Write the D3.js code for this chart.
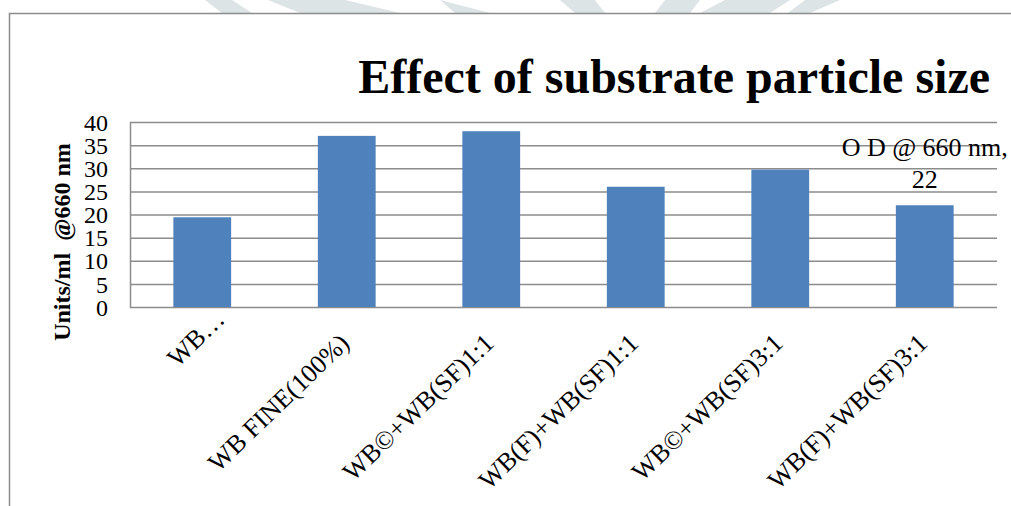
<!DOCTYPE html>
<html>
<head>
<meta charset="utf-8">
<script src="https://cdn.jsdelivr.net/npm/d3@7"></script>
<style>
  body { margin: 0; background: #fff; }
  text { font-family: "Liberation Serif", "Times New Roman", serif; }
</style>
</head>
<body>
<div id="chart"></div>
<script>
// Data
const categories = ['WB…', 'WB FINE(100%)', 'WB©+WB(SF)1:1', 'WB(F)+WB(SF)1:1', 'WB©+WB(SF)3:1', 'WB(F)+WB(SF)3:1'];
const values = [19.4, 37.0, 38.0, 26.0, 29.7, 22.0];
const yTicks = [0, 5, 10, 15, 20, 25, 30, 35, 40];
const titleText = 'Effect of substrate particle size';
const yLabel = 'Units/ml  @660 nm';
const labelLines = ['O D @ 660 nm,', '22'];

const [width, height] = [1011, 506];
const plot = { left: 130, right: 997, top: 122, bottom: 307 };

const svg = d3.select('#chart').append('svg')
  .attr('width', width)
  .attr('height', height);

// faint watermark above the frame
const wm = [
  [[205, 0], [232, 0], [252, 13], [222, 13]],
  [[268, 0], [345, 0], [400, 13], [300, 13]],
  [[440, 0], [490, 13], [455, 13]],
  [[560, 0], [595, 0], [605, 13], [575, 13]],
  [[665, 0], [700, 0], [690, 13], [655, 13]],
  [[725, 0], [790, 0], [770, 13], [700, 13]],
  [[805, 0], [840, 0], [810, 13], [788, 13]]
];
svg.selectAll('polygon.wm').data(wm).enter().append('polygon')
  .attr('class', 'wm')
  .attr('points', (d) => d.map((p) => p.join(',')).join(' '))
  .attr('fill', '#dde4e6');

// outer frame (top and left edges visible)
svg.append('path')
  .attr('d', `M9.5,${height} V13.5 H${width}`)
  .attr('fill', 'none')
  .attr('stroke', '#8c8c8c')
  .attr('stroke-width', 1.5);

const xScale = d3.scaleBand()
  .domain(categories)
  .range([plot.left, plot.right])
  .paddingInner(0.6)
  .paddingOuter(0.3);

const yScale = d3.scaleLinear()
  .domain([0, 40])
  .range([plot.bottom, plot.top]);

// gridlines
svg.append('g')
  .selectAll('line')
  .data(yTicks)
  .enter()
  .append('line')
  .attr('x1', plot.left)
  .attr('x2', plot.right)
  .attr('y1', (d) => yScale(d) + 0.5)
  .attr('y2', (d) => yScale(d) + 0.5)
  .attr('stroke', '#8c8c8c')
  .attr('stroke-width', 1.5);

// left axis line
svg.append('line')
  .attr('x1', plot.left + 0.5).attr('x2', plot.left + 0.5)
  .attr('y1', plot.top).attr('y2', plot.bottom + 1)
  .attr('stroke', '#8c8c8c')
  .attr('stroke-width', 1.5);

// bars
svg.append('g')
  .selectAll('rect')
  .data(values)
  .enter()
  .append('rect')
  .attr('x', (d, i) => xScale(categories[i]))
  .attr('y', (d) => yScale(d))
  .attr('width', xScale.bandwidth())
  .attr('height', (d) => yScale(0) - yScale(d))
  .attr('fill', '#4f81bd');

// y tick labels
const yAxis = svg.append('g')
  .attr('transform', `translate(${plot.left - 22},0)`)
  .call(d3.axisLeft(yScale).tickValues(yTicks).tickSize(0).tickPadding(0));
yAxis.select('.domain').remove();
yAxis.selectAll('text')
  .attr('font-family', '"Liberation Serif", serif')
  .attr('font-size', 24)
  .attr('fill', '#000')
  .attr('dy', '0.34em');

// x tick labels, rotated; the truncated first label sits higher
svg.append('g')
  .selectAll('text')
  .data(categories)
  .enter()
  .append('text')
  .attr('transform', (d, i) => {
    const cx = xScale(d) + xScale.bandwidth() / 2;
    const [dx, dy] = i === 0 ? [24, 14] : [4, 38];
    return `translate(${cx + dx},${plot.bottom + dy}) rotate(-44)`;
  })
  .attr('text-anchor', 'end')
  .attr('font-size', 26)
  .attr('fill', '#000')
  .text((d) => d);

// title
svg.append('text')
  .attr('x', 990)
  .attr('y', 93)
  .attr('text-anchor', 'end')
  .attr('font-size', 48)
  .attr('font-weight', 'bold')
  .attr('fill', '#000')
  .text(titleText);

// y axis title
svg.append('text')
  .attr('transform', 'translate(70,242) rotate(-90)')
  .attr('text-anchor', 'middle')
  .attr('font-size', 24)
  .attr('font-weight', 'bold')
  .attr('fill', '#000')
  .style('white-space', 'pre')
  .text(yLabel);

// data label on last bar
const last = categories.length - 1;
const lx = xScale(categories[last]) + xScale.bandwidth() / 2;
svg.append('g')
  .selectAll('text')
  .data(labelLines)
  .enter()
  .append('text')
  .attr('x', lx)
  .attr('y', (d, i) => 156 + i * 32)
  .attr('text-anchor', 'middle')
  .attr('font-size', 26)
  .attr('fill', '#000')
  .text((d) => d);
</script>
</body>
</html>
